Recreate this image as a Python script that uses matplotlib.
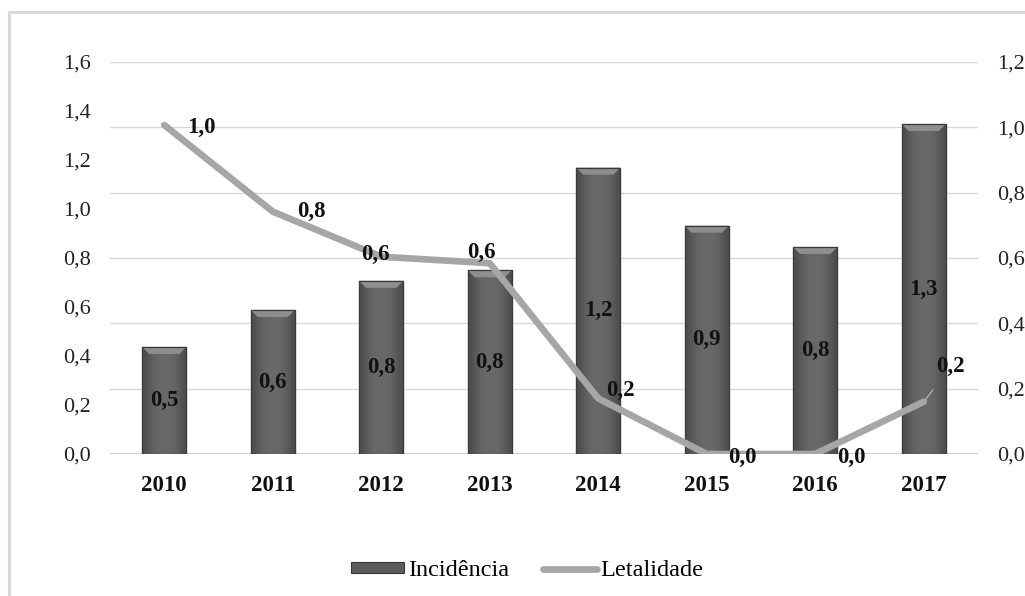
import matplotlib
matplotlib.use("Agg")
import matplotlib.pyplot as plt
import numpy as np
from matplotlib.patches import Rectangle, Polygon
from matplotlib.lines import Line2D

# ---- data ----
years = ["2010", "2011", "2012", "2013", "2014", "2015", "2016", "2017"]
incidencia = [0.437, 0.588, 0.707, 0.750, 1.169, 0.932, 0.845, 1.347]
incidencia_labels = ["0,5", "0,6", "0,8", "0,8", "1,2", "0,9", "0,8", "1,3"]
letalidade = [1.007, 0.742, 0.604, 0.584, 0.170, 0.0, 0.0, 0.160]
letalidade_labels = ["1,0", "0,8", "0,6", "0,6", "0,2", "0,0", "0,0", "0,2"]
left_ticks = [0.0, 0.2, 0.4, 0.6, 0.8, 1.0, 1.2, 1.4, 1.6]
right_ticks = [0.0, 0.2, 0.4, 0.6, 0.8, 1.0, 1.2]

# label offsets in pixels (layout)
line_label_offsets = [(37, -2), (39, 0), (-6, 2), (-8, 11), (22, 8), (36, -3), (36, -3), (27, 35)]

plt.rcParams['font.family'] = ['Liberation Serif', 'DejaVu Serif']

W, H = 1025, 596
fig = plt.figure(figsize=(W / 100, H / 100), dpi=100)
fig.patch.set_facecolor("white")

# outer frame (light gray), cut at right/bottom
fig.patches.append(Rectangle((9 / W, -0.1), 1.2, 1 - 12 / H + 0.1, transform=fig.transFigure,
                             fill=False, edgecolor="#d9d9d9", linewidth=2.2, zorder=0))

ax = fig.add_axes([110 / W, 1 - 454 / H, (978 - 110) / W, (454 - 62) / H])
ax2 = ax.twinx()

x = np.arange(len(years))

# gridlines from secondary axis
for t in right_ticks:
    ax.axhline(t * 1.6 / 1.2, color="#d9d9d9", lw=1.0, zorder=0)
ax.axhline(0, color="#d0d0d0", lw=1.6, zorder=1)

barw = 0.41
bars = ax.bar(x, incidencia, width=barw, color="#5c5c5c", edgecolor="#3c3c3c", linewidth=0.8, zorder=2)

# shading: horizontal gradient within each bar + top bevel
grad = np.array([[0.30, 0.36, 0.40, 0.41, 0.41, 0.40, 0.36, 0.30]])
px_per_unit = (454 - 62) / 1.6
bev = 7 / px_per_unit  # bevel height in data units
for b in bars:
    x0, w, h = b.get_x(), b.get_width(), b.get_height()
    im = ax.imshow(grad, extent=(x0, x0 + w, 0, h), cmap="gray", vmin=0, vmax=1,
                   aspect="auto", zorder=2.1, interpolation="bicubic")
    im.set_clip_path(b)
    inset = w * 0.16
    poly = Polygon([(x0, h), (x0 + w, h), (x0 + w - inset, h - bev), (x0 + inset, h - bev)],
                   closed=True, facecolor="#8e8e8e", edgecolor="none", zorder=2.2)
    ax.add_patch(poly)
    ax.add_patch(Rectangle((x0, 0), w, h, fill=False, edgecolor="#3a3a3a", lw=0.9, zorder=2.3))

ax.set_xlim(-0.5, len(years) - 0.5)
ax.set_ylim(0, 1.6)
ax2.set_ylim(0, 1.2)

# bar labels
for xi, v, lab in zip(x, incidencia, incidencia_labels):
    ax.text(xi, v / 2, lab, ha="center", va="center", fontsize=16.5, fontweight="bold",
            color="#111111", zorder=5)

# line on secondary axis
ax2.plot(x, letalidade, color="#a6a6a6", lw=4.8, solid_capstyle="round",
         solid_joinstyle="round", zorder=3)
for i, (xi, v, lab) in enumerate(zip(x, letalidade, letalidade_labels)):
    dx, dy = line_label_offsets[i]
    kw = {}
    if i == len(x) - 1:
        kw["arrowprops"] = dict(arrowstyle="-", color="#bfbfbf", lw=0.8, shrinkA=9, shrinkB=2)
    ax2.annotate(lab, (xi, v), xytext=(dx, dy), textcoords="offset pixels",
                 ha="center", va="center", fontsize=16.5, fontweight="bold", color="#111111",
                 zorder=5, **kw)

ax.set_zorder(1)
ax2.set_zorder(2)
ax2.patch.set_visible(False)

# ticks
ax.set_xticks(x)
ax.set_xticklabels(years, fontsize=16.5, fontweight="bold", color="#111111")
ax.set_yticks(left_ticks)
ax.set_yticklabels([f"{t:.1f}".replace(".", ",") for t in left_ticks], fontsize=16, color="#222222")
ax2.set_yticks(right_ticks)
ax2.set_yticklabels([f"{t:.1f}".replace(".", ",") for t in right_ticks], fontsize=16, color="#222222")
ax.tick_params(axis="x", length=0, pad=15)
ax.tick_params(axis="y", length=0, pad=14)
ax2.tick_params(axis="y", length=0, pad=14)
for a in (ax, ax2):
    for s in a.spines.values():
        s.set_visible(False)

# legend
h1 = Rectangle((0, 0), 1, 1, facecolor="#5c5c5c", edgecolor="#3a3a3a", lw=0.8)
h2 = Line2D([0], [0], color="#a6a6a6", lw=4.8, solid_capstyle="round")
fig.legend([h1, h2], ["Incidência", "Letalidade"], loc="center",
           bbox_to_anchor=(527 / W, 1 - 571 / H), ncol=2, frameon=False, fontsize=17.5,
           handlelength=2.2, handleheight=0.3, handletextpad=0.15, columnspacing=1.4)

fig.savefig("out.png", dpi=100, facecolor="white")
